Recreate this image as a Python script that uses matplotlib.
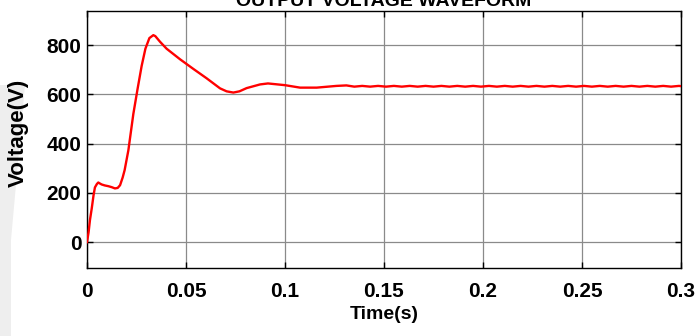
import matplotlib
matplotlib.use("Agg")
import matplotlib.pyplot as plt
from matplotlib.patches import Polygon

# ---- data ----
t_transient = [0.0, 0.0008, 0.0015, 0.0024, 0.0033, 0.0040, 0.0050, 0.0057, 0.0065,
               0.0074, 0.0090, 0.0108, 0.0125, 0.0141, 0.0155, 0.0167, 0.0180,
               0.0190, 0.0209, 0.0234, 0.0255, 0.0276, 0.0295, 0.0315, 0.0335,
               0.0345, 0.0369, 0.0402, 0.0470, 0.0537, 0.0604, 0.0672, 0.0705,
               0.0739, 0.0770, 0.0806, 0.0874, 0.0914, 0.1000, 0.1076, 0.1160,
               0.1260, 0.1310]
v_transient = [0, 40, 90, 137, 190, 222, 236, 242, 238,
               234, 230, 227, 223, 218, 220, 231, 262,
               292, 373, 520, 620, 715, 785, 828, 840,
               836, 813, 785, 742, 703, 665, 624, 612,
               607, 612, 625, 640, 644, 637, 627, 627,
               634, 636]

t_steady = [0.135, 0.139, 0.143, 0.147, 0.151, 0.155, 0.159, 0.163, 0.167, 0.171,
            0.175, 0.179, 0.183, 0.187, 0.191, 0.195, 0.199, 0.203, 0.207, 0.211,
            0.215, 0.219, 0.223, 0.227, 0.231, 0.235, 0.239, 0.243, 0.247, 0.251,
            0.255, 0.259, 0.263, 0.267, 0.271, 0.275, 0.279, 0.283, 0.287, 0.291,
            0.295, 0.299, 0.300]
v_steady = [631, 634, 631, 634, 631, 634, 631, 634, 631, 634,
            631, 634, 631, 634, 631, 634, 631, 634, 631, 634,
            631, 634, 631, 634, 631, 634, 631, 634, 631, 634,
            631, 634, 631, 634, 631, 634, 631, 634, 631, 634,
            631, 634, 633]

x_ticks = [0, 0.05, 0.1, 0.15, 0.2, 0.25, 0.3]
x_ticklabels = ["0", "0.05", "0.1", "0.15", "0.2", "0.25", "0.3"]
y_ticks = [0, 200, 400, 600, 800]
y_ticklabels = ["0", "200", "400", "600", "800"]

title = "OUTPUT VOLTAGE WAVEFORM"
xlabel = "Time(s)"
ylabel = "Voltage(V)"

# ---- figure ----
plt.rcParams['font.family'] = ['Liberation Sans', 'DejaVu Sans']
plt.rcParams['font.weight'] = 'bold'

W, H = 697, 336
fig = plt.figure(figsize=(W / 100, H / 100), dpi=100)

# faint watermark shape on left edge
wm = Polygon([(0, 1 - 85 / H), (25 / W, 1 - 85 / H), (11 / W, 1 - 240 / H),
              (11 / W, 0), (0, 0)], closed=True, transform=fig.transFigure,
             facecolor='#eeeeee', edgecolor='none', zorder=-5)
fig.patches.append(wm)

left, right, top, bottom = 87 / W, 681 / W, 11 / H, 268 / H
ax = fig.add_axes([left, 1 - bottom, right - left, bottom - top])
ax.set_zorder(2)

t_all = t_transient + t_steady
v_all = v_transient + v_steady
ax.plot(t_all, v_all, color='#ff0000', lw=1.7, solid_joinstyle='round', zorder=3)

ax.set_xlim(0, 0.3)
ax.set_ylim(-105, 938)
ax.set_xticks(x_ticks)
ax.set_xticklabels(x_ticklabels)
ax.set_yticks(y_ticks)
ax.set_yticklabels(y_ticklabels)

ax.grid(True, color='#8a8a8a', lw=0.9)
ax.set_axisbelow(True)
ax.tick_params(direction='in', length=4, width=1, top=True, right=True,
               labelsize=15, color='black')
ax.tick_params(axis='x', pad=10)
ax.tick_params(axis='y', pad=4)
for lab in ax.get_xticklabels() + ax.get_yticklabels():
    lab.set_fontweight('bold')
for s in ax.spines.values():
    s.set_linewidth(1.0)
    s.set_color('black')

ax.set_xlabel(xlabel, fontsize=14, fontweight='bold', labelpad=4)
ax.set_ylabel(ylabel, fontsize=16, fontweight='bold')
ax.yaxis.set_label_coords(-0.098, 0.526)
ax.set_title(title, fontsize=14, fontweight='bold', pad=3.6)

fig.savefig("out.png", dpi=100)
